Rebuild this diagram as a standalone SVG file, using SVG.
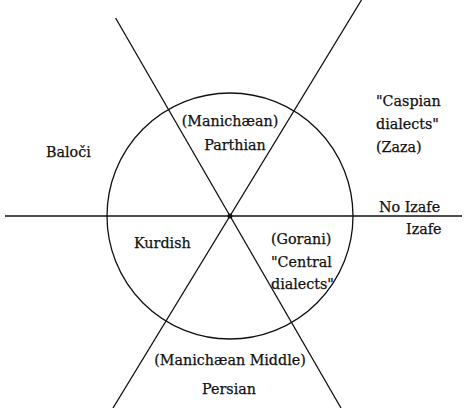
<svg xmlns="http://www.w3.org/2000/svg" width="467" height="408" viewBox="0 0 467 408">
<style>
.ln{stroke:#111;stroke-width:1.3;fill:none}
.t{font-family:"DejaVu Serif","Liberation Serif",serif;font-size:14.3px;fill:#111;stroke:#111;stroke-width:0.25}
.m{text-anchor:middle}
</style>
<rect width="467" height="408" fill="#fff"/>
<g id="connectors">
<circle class="ln" cx="230" cy="216" r="123"/>
<line class="ln" x1="5" y1="216" x2="462" y2="216"/>
<line class="ln" x1="115.6" y1="18" x2="341" y2="408"/>
<line class="ln" x1="361.5" y1="0" x2="113" y2="408"/>
<circle cx="230" cy="216" r="2.5" fill="#111"/>
</g>
<g id="parthian"><text class="t m" x="230" y="126">(Manichæan)</text><text class="t m" x="235" y="150">Parthian</text></g>
<g id="baloci"><text class="t" x="46" y="157">Baloči</text></g>
<g id="caspian"><text class="t" x="376" y="106">"Caspian</text><text class="t" x="376" y="129">dialects"</text><text class="t" x="376" y="152">(Zaza)</text></g>
<g id="noizafe"><text class="t" x="379" y="212">No Izafe</text></g>
<g id="izafe"><text class="t" x="406" y="234">Izafe</text></g>
<g id="kurdish"><text class="t" x="134" y="248">Kurdish</text></g>
<g id="gorani"><text class="t" x="271" y="244">(Gorani)</text><text class="t" x="271" y="267">"Central</text><text class="t" x="271" y="289">dialects"</text></g>
<g id="persian"><text class="t m" x="230" y="365">(Manichæan Middle)</text><text class="t m" x="229" y="394">Persian</text></g>
</svg>
